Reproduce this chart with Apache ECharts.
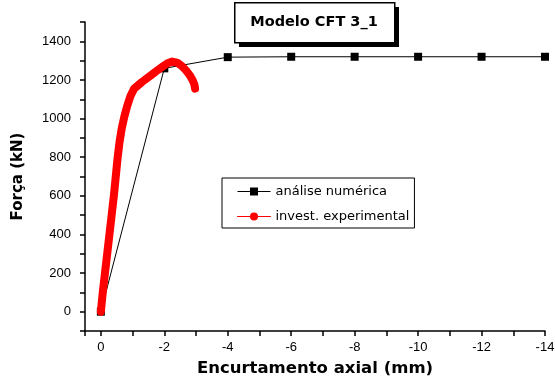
<!DOCTYPE html>
<html>
<head>
<meta charset="utf-8">
<script src="https://cdn.jsdelivr.net/npm/echarts@6/dist/echarts.min.js"></script>
<style>html,body{margin:0;padding:0;background:#fff}#c{width:555px;height:376px}</style>
</head>
<body>
<div id="c"></div>
<script>
const titleText = 'Modelo CFT 3_1';
const xTitle = 'Encurtamento axial (mm)';
const yTitle = 'Força (kN)';
const seriesNames = ['análise numérica', 'invest. experimental'];

const numX = [0, -2, -4, -6, -8, -10, -12, -14];
const numY = [0, 1260, 1318, 1320, 1320, 1320, 1320, 1320];

const expX = [0, -0.06, -0.13, -0.2, -0.27, -0.34, -0.41, -0.47, -0.53, -0.59, -0.66, -0.74, -0.83, -0.93, -1.05, -1.3, -1.57, -1.8, -1.97, -2.12, -2.25, -2.4, -2.55, -2.68, -2.8, -2.89, -2.95, -2.97];
const expY = [0, 100, 200, 300, 400, 500, 600, 700, 800, 880, 950, 1010, 1065, 1115, 1155, 1190, 1223, 1252, 1272, 1288, 1295, 1290, 1272, 1250, 1225, 1200, 1175, 1155];

const chart = echarts.init(document.getElementById('c'), null, {renderer: 'canvas'});
const font = '"Liberation Sans", Arial, sans-serif';
const boldFont = '"DejaVu Sans", sans-serif';

chart.setOption({
  animation: false,
  backgroundColor: '#fff',
  grid: {left: 85, right: 10, top: 22, bottom: 45, containLabel: false, outerBoundsMode: 'none'},
  xAxis: {
    type: 'value', inverse: true, min: -14, max: 0.5, interval: 1,
    axisLine: {show: true, onZero: false, lineStyle: {color: '#000', width: 1.5}},
    axisTick: {show: true, length: 5, lineStyle: {color: '#000', width: 1.5}},
    splitLine: {show: false},
    axisLabel: {color: '#000', fontSize: 13, fontFamily: font, margin: 10,
      formatter: v => (Math.abs(v % 2) < 1e-9 ? String(v) : '')},
    name: xTitle, nameLocation: 'middle', nameGap: 29,
    nameTextStyle: {color: '#000', fontSize: 16.5, fontWeight: 'bold', fontFamily: boldFont}
  },
  yAxis: {
    type: 'value', min: -100, max: 1500, interval: 100,
    axisLine: {show: true, onZero: false, lineStyle: {color: '#000', width: 1.5}},
    axisTick: {show: true, length: 5, lineStyle: {color: '#000', width: 1.5}},
    splitLine: {show: false},
    axisLabel: {color: '#000', fontSize: 13, fontFamily: font, margin: 14,
      formatter: v => (v >= 0 && v <= 1400 && v % 200 === 0 ? String(v) : '')},
    name: yTitle, nameLocation: 'middle', nameGap: 59, nameRotate: 90,
    nameTextStyle: {color: '#000', fontSize: 15, fontWeight: 'bold', fontFamily: boldFont}
  },
  legend: {
    orient: 'vertical', left: 222, top: 178,
    padding: [7, 5, 5, 15],
    itemWidth: 33, itemHeight: 10, itemGap: 12,
    borderColor: '#000', borderWidth: 1, backgroundColor: '#fff',
    textStyle: {color: '#000', fontSize: 13, fontFamily: '"DejaVu Sans", sans-serif'},
    data: [
      {name: seriesNames[0], lineStyle: {width: 1}},
      {name: seriesNames[1], lineStyle: {width: 1}}
    ]
  },
  series: [
    {
      name: seriesNames[0], type: 'line', z: 2,
      data: numX.map((x, i) => [x, numY[i]]),
      symbol: 'rect', symbolSize: 8, showSymbol: true,
      itemStyle: {color: '#000'},
      lineStyle: {color: '#000', width: 1}
    },
    {
      name: seriesNames[1], type: 'line', z: 3,
      data: expX.map((x, i) => [x, expY[i]]),
      symbol: 'circle', symbolSize: 10, showSymbol: false,
      itemStyle: {color: '#ff0000'},
      lineStyle: {color: '#ff0000', width: 8, cap: 'round', join: 'round'}
    }
  ],
  graphic: [
    {type: 'rect', left: 239, top: 7, shape: {width: 160, height: 40}, style: {fill: '#000'}, z: 10},
    {type: 'rect', left: 234, top: 2, shape: {width: 160, height: 40}, style: {fill: '#fff', stroke: '#000', lineWidth: 1.5}, z: 11},
    {type: 'text', x: 314, y: 22, z: 12,
      style: {text: titleText, fill: '#000', font: 'bold 14.5px "DejaVu Sans", sans-serif', align: 'center', verticalAlign: 'middle'}}
  ]
});
</script>
</body>
</html>
